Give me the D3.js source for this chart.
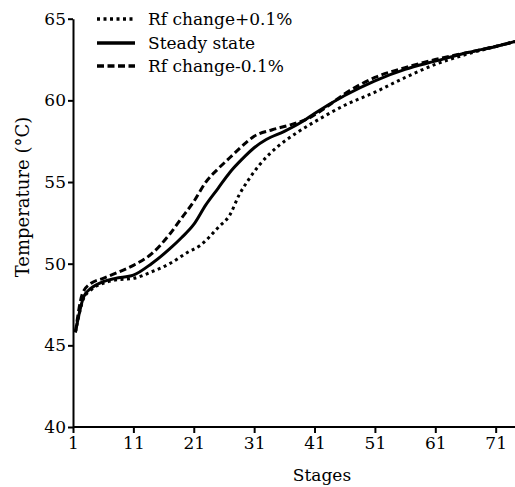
<!DOCTYPE html>
<html><head><meta charset="utf-8">
<script src="https://cdn.jsdelivr.net/npm/d3@7"></script>
<style>body{margin:0;background:#fff}svg{display:block}svg text{font-family:"DejaVu Serif",serif !important;fill:#000 !important}</style>
</head><body><svg id="c" width="515" height="487"></svg>
<script>
const xTicks = [1, 11, 21, 31, 41, 51, 61, 71];
const yTicks = [40, 45, 50, 55, 60, 65];
const seriesNames = ["Rf change+0.1%", "Steady state", "Rf change-0.1%"];
const plusStages = [1.4, 2.8, 4, 6, 8, 11, 14, 17, 20, 22, 25, 27, 28.5, 30, 32, 35, 38, 42, 46, 51, 56, 61, 66, 71, 74.2];
const plusTemps  = [45.8, 47.9, 48.4, 48.8, 49.0, 49.1, 49.5, 50.0, 50.7, 51.1, 52.2, 53.0, 54.2, 55.1, 56.1, 57.2, 58.0, 58.9, 59.7, 60.5, 61.4, 62.2, 62.8, 63.3, 63.6];
const steadyStages = [1.4, 2.8, 4, 6, 8, 11, 14, 17, 19, 21, 23, 25, 27, 29, 31, 33, 36, 39, 41, 46, 51, 56, 61, 66, 71, 74.2];
const steadyTemps  = [45.8, 48.0, 48.5, 48.9, 49.1, 49.3, 50.0, 50.9, 51.6, 52.4, 53.6, 54.6, 55.6, 56.4, 57.1, 57.6, 58.1, 58.7, 59.2, 60.3, 61.2, 61.9, 62.4, 62.9, 63.3, 63.6];
const minusStages = [1.4, 2.6, 4, 6, 8, 11, 14, 17, 19, 21, 23, 25, 27, 29, 31, 34, 37, 40, 43, 46, 51, 56, 61, 66, 71, 74.2];
const minusTemps  = [45.8, 48.2, 48.8, 49.1, 49.4, 49.9, 50.6, 51.8, 52.8, 53.8, 55.0, 55.8, 56.5, 57.2, 57.8, 58.2, 58.5, 58.9, 59.6, 60.4, 61.4, 62.0, 62.5, 62.9, 63.3, 63.6];

const svg = d3.select("#c");
const x = d3.scaleLinear().domain([1, 74.2]).range([73, 515]);
const y = d3.scaleLinear().domain([40, 65]).range([427, 18.7]);

const xAxis = svg.append("g").attr("transform", "translate(0,427)")
  .call(d3.axisBottom(x).tickValues(xTicks).tickSize(6).tickPadding(4).tickSizeOuter(0));
const yAxis = svg.append("g").attr("transform", "translate(73,0)")
  .call(d3.axisLeft(y).tickValues(yTicks).tickSize(5).tickPadding(2).tickSizeOuter(0));
[xAxis, yAxis].forEach(a => {
  a.attr("font-size", 17);
  a.selectAll("path").attr("stroke", "#000").attr("stroke-width", 2);
  a.selectAll("line").attr("stroke", "#000").attr("stroke-width", 2);
  a.selectAll("text").attr("font-size", 17).attr("fill", "#000");
});
xAxis.select("path").attr("d", "M73,0H515");

svg.append("text").attr("x", 322).attr("y", 481).attr("text-anchor", "middle")
  .attr("font-size", 17).attr("fill", "#000").text("Stages");
svg.append("text").attr("transform", "translate(29,197) rotate(-90)").attr("text-anchor", "middle")
  .attr("font-size", 18).attr("fill", "#000").text("Temperature (°C)");

const styles = [
  {dash: "3,3.5"},
  {dash: null},
  {dash: "7,3.5"}
];
const data = [
  plusStages.map((s, i) => [s, plusTemps[i]]),
  steadyStages.map((s, i) => [s, steadyTemps[i]]),
  minusStages.map((s, i) => [s, minusTemps[i]])
];
const line = d3.line().x(d => x(d[0])).y(d => y(d[1])).curve(d3.curveMonotoneX);
const plot = svg.append("g");
[1, 0, 2].forEach(k => {
  plot.append("path").datum(data[k]).attr("d", line).attr("fill", "none")
    .attr("stroke", "#000").attr("stroke-width", 3)
    .attr("stroke-dasharray", styles[k].dash);
});

const legY = [19, 43, 66];
const leg = svg.append("g");
seriesNames.forEach((n, i) => {
  leg.append("line").attr("x1", 97).attr("x2", 135).attr("y1", legY[i]).attr("y2", legY[i])
    .attr("stroke", "#000").attr("stroke-width", 3.5).attr("stroke-dasharray", styles[i].dash);
  leg.append("text").attr("x", 148).attr("y", legY[i]).attr("dy", "0.35em")
    .attr("font-size", 17).attr("fill", "#000").text(n);
});
</script></body></html>
